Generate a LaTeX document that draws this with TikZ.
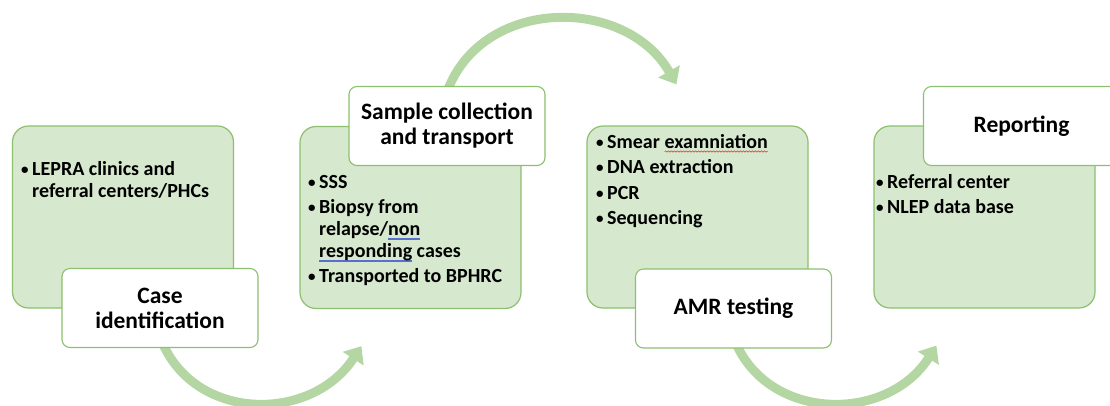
\documentclass[tikz,border=0pt]{standalone}
\usepackage{fontspec}
\setmainfont{Carlito}
\usetikzlibrary{arrows.meta,backgrounds,decorations.pathmorphing}
\definecolor{boxfill}{RGB}{214,232,206}
\definecolor{boxline}{RGB}{140,192,110}
\definecolor{arrowgreen}{RGB}{180,214,162}
\definecolor{spellblue}{RGB}{90,110,210}
\definecolor{spellred}{RGB}{230,40,40}
\newlength\ulwidth
\newcommand\bul{\makebox[11pt][l]{\raisebox{1pt}{\fontsize{15}{15}\selectfont\textbullet}}}
\newcommand\ind{\hspace*{11pt}}
\newcommand\blueul[1]{\settowidth\ulwidth{#1}\rlap{\color{spellblue}\rule[-3.2pt]{\ulwidth}{0.55pt}}\rlap{\color{spellblue}\rule[-5pt]{\ulwidth}{0.55pt}}#1}
\newcommand\redwavy[1]{\settowidth\ulwidth{#1}\rlap{\tikz[overlay,x=1pt,y=1pt]\draw[spellred,line width=0.5pt,decorate,decoration={snake,amplitude=0.7pt,segment length=3pt}] (0,-3.5pt) -- (\ulwidth,-3.5pt);}#1}
\begin{document}
\begin{tikzpicture}[x=1pt,y=-1pt,
  greenbox/.style={draw=boxline,line width=1.2pt,fill=boxfill,rounded corners=16pt,minimum width=221pt,minimum height=182pt,inner sep=0pt},
  whitebox/.style={draw=boxline,line width=1.1pt,fill=white,rounded corners=8pt,minimum width=196pt,minimum height=79pt,inner sep=0pt,align=center,font=\bfseries\fontsize{23.5}{25}\selectfont},
  bodytext/.style={anchor=base west,inner sep=0pt,font=\bfseries\fontsize{20}{22}\selectfont},
  flowarrow/.style={draw=arrowgreen,line width=9pt,-{Triangle[width=24pt,length=15pt]}}]
\useasboundingbox (0,0) rectangle (1110,405);
\begin{scope}
\clip (0,0) rectangle (1110,405);
% green boxes
\node[greenbox] (g1) at (123,217) {};
\node[greenbox] (g2) at (410.5,217.5) {};
\node[greenbox] (g3) at (697.5,217) {};
\node[greenbox] (g4) at (984.5,217) {};
% body texts
\node[bodytext] (t1) at (21,175) {\begin{tabular}[t]{@{}l@{}}
\bul LEPRA clinics and\\
\ind referral centers/PHCs
\end{tabular}};
\node[bodytext] (t2) at (308,188) {\begin{tabular}[t]{@{}l@{}}
\bul SSS\\[3pt]
\bul Biopsy from\\
\ind relapse/\blueul{non}\\
\ind \blueul{responding} cases\\[3pt]
\bul Transported to BPHRC
\end{tabular}};
\node[bodytext] (t3) at (596,148) {\begin{tabular}[t]{@{}l@{}}
\bul Smear \redwavy{examniation}\\[3.5pt]
\bul DNA extraction\\[3.5pt]
\bul PCR\\[3.5pt]
\bul Sequencing
\end{tabular}};
\node[bodytext] (t4) at (876,188) {\begin{tabular}[t]{@{}l@{}}
\bul Referral center\\[3pt]
\bul NLEP data base
\end{tabular}};
% white title boxes
\node[whitebox] (w1) at (160,308) {Case\\identification};
\node[whitebox] (w2) at (447,126) {Sample collection\\and transport};
\node[whitebox] (w3) at (733.5,308.5) {AMR testing};
\node[whitebox] (w4) at (1021.5,126) {Reporting};
% arrow end points
\coordinate (a1s) at ([xshift=3pt,yshift=4pt]w1.south);
\coordinate (a1e) at ([xshift=62pt,yshift=-37pt]g2.south west);
\coordinate (a2s) at ([xshift=0pt,yshift=-6pt]w2.north);
\coordinate (a2e) at ([xshift=90pt,yshift=41pt]g3.north west);
\coordinate (a3s) at ([xshift=3pt,yshift=4pt]w3.south);
\coordinate (a3e) at ([xshift=63pt,yshift=-37pt]g4.south west);
\begin{pgfonlayer}{background}
\draw[flowarrow] (a1s) .. controls (198,422) and (312,422) .. (a1e);
\draw[flowarrow] (a2s) .. controls (482,-4) and (626,-4) .. (a2e);
\draw[flowarrow] (a3s) .. controls (772,422) and (888,422) .. (a3e);
\end{pgfonlayer}
\end{scope}
\end{tikzpicture}
\end{document}
